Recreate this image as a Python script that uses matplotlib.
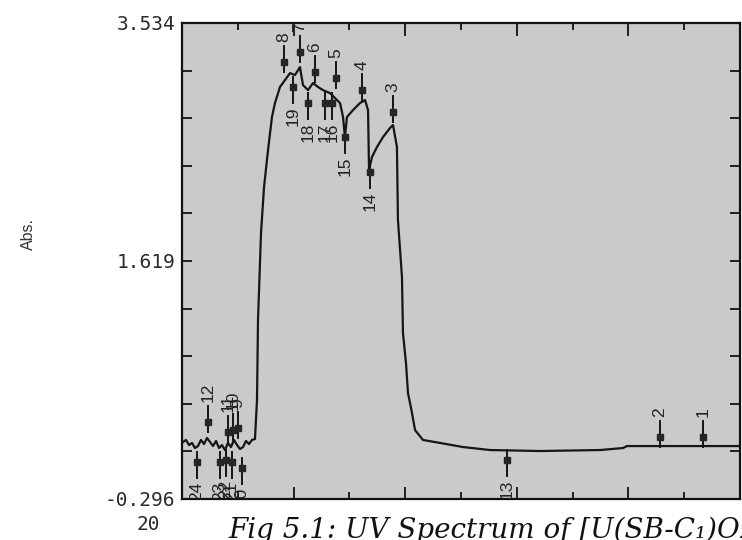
import matplotlib
matplotlib.use("Agg")
import matplotlib.pyplot as plt
import numpy as np

# spectrum trace (wavelength nm, absorbance)
wavelength = [201.0, 203.6, 206.3, 209.0, 211.6, 214.3, 217.0, 219.7, 222.4, 225.1,
              227.8, 230.5, 233.2, 235.8, 238.5, 241.2, 243.9, 246.6, 249.3, 252.0,
              254.7, 257.3, 260.0, 262.7, 265.4, 267.2, 268.1, 270.8, 273.5, 277.1,
              280.6, 283.3, 287.8, 292.3, 296.8, 301.2, 305.7, 308.4, 312.9, 317.4,
              321.9, 326.3, 332.6, 338.9, 341.6, 344.3, 346.0, 347.8, 353.2, 359.5,
              364.0, 366.7, 367.6, 370.2, 374.7, 380.1, 386.4, 389.1, 392.6, 393.5,
              397.1, 398.0, 400.7, 402.5, 406.1, 408.8, 415.9, 431.2, 451.8, 476.0,
              520.8, 574.5, 595.1, 598.7, 646.2, 700.0]
absorbance = [0.163, 0.179, 0.138, 0.155, 0.114, 0.130, 0.179, 0.146, 0.195, 0.163,
              0.130, 0.171, 0.114, 0.138, 0.098, 0.155, 0.122, 0.179, 0.138, 0.106,
              0.122, 0.171, 0.146, 0.179, 0.187, 0.500, 1.144, 1.844, 2.214, 2.512,
              2.777, 2.890, 3.019, 3.075, 3.131, 3.115, 3.179, 3.035, 2.994, 3.051,
              3.019, 2.994, 2.970, 2.914, 2.890, 2.777, 2.616, 2.777, 2.833, 2.890,
              2.914, 2.833, 2.351, 2.455, 2.536, 2.616, 2.689, 2.713, 2.536, 1.949,
              1.490, 1.039, 0.798, 0.557, 0.396, 0.259, 0.179, 0.155, 0.122, 0.098,
              0.090, 0.098, 0.114, 0.130, 0.130, 0.130]

# picked peaks (pointing up) and valleys (pointing down)
peak_labels = ["1", "2", "3", "4", "5", "6", "7", "8", "9", "10", "11", "12"]
peak_wl = [666.8, 628.3, 389.1, 361.3, 338.0, 319.2, 305.7, 291.4, 250.2, 245.7, 241.2, 223.3]
peak_abs = [0.203, 0.203, 2.817, 2.994, 3.091, 3.139, 3.300, 3.220, 0.275, 0.259, 0.243, 0.323]

valley_labels = ["13", "14", "15", "16", "17", "18", "19", "20", "21", "22", "23", "24"]
valley_wl = [491.2, 368.4, 346.0, 334.4, 328.1, 312.9, 299.5, 253.8, 244.8, 239.4, 234.0, 213.4]
valley_abs = [0.018, 2.335, 2.616, 2.890, 2.890, 2.890, 3.019, -0.047, 0.002, 0.018, 0.002, 0.002]

y_ticks = [-0.296 + i * 0.383 for i in range(11)]
y_ticklabels = ["-0.296", "", "", "", "", "1.619", "", "", "", "", "3.534"]

fig = plt.figure(figsize=(7.42, 5.40), dpi=100)
ax = fig.add_axes([182 / 742, 41 / 540, 558 / 742, 476 / 540])
ax.set_facecolor("#cacaca")

ax.plot(wavelength, absorbance, color="#151515", lw=1.6)

stem_up, stem_dn = 0.13, 0.08
lab_font = dict(fontsize=12.5, family="Liberation Sans", color="#222222")
for lab, x, y in zip(peak_labels, peak_wl, peak_abs):
    ax.plot([x, x], [y - stem_dn, y + stem_up], color="#151515", lw=1.4)
    ax.text(x, y + stem_up + 0.03, lab, rotation=90, ha="center", va="bottom",
            clip_on=True, **lab_font)
ax.plot(peak_wl, peak_abs, "s", color="#252525", ms=4.5)

for lab, x, y in zip(valley_labels, valley_wl, valley_abs):
    ax.plot([x, x], [y + stem_dn, y - stem_up], color="#151515", lw=1.4)
    ax.text(x, y - stem_up - 0.03, lab, rotation=90, ha="center", va="top",
            clip_on=True, **lab_font)
ax.plot(valley_wl, valley_abs, "s", color="#252525", ms=4.5)

ax.set_xlim(200, 700)
ax.set_ylim(-0.296, 3.534)
ax.set_xticks(np.arange(200, 701, 100))
ax.set_xticks(np.arange(250, 700, 100), minor=True)
ax.set_xticklabels([])
ax.set_yticks(y_ticks)
ax.set_yticklabels(y_ticklabels, family="DejaVu Sans Mono", fontsize=14, color="#2a2a2a")
ax.tick_params(axis="both", which="both", direction="in", top=True, right=True, color="#111111")
ax.tick_params(axis="x", which="major", length=9, width=1.3)
ax.tick_params(axis="x", which="minor", length=5, width=1.3)
ax.tick_params(axis="y", length=7, width=1.3, pad=5)
for s in ax.spines.values():
    s.set_linewidth(1.6)
    s.set_color("#111111")

fig.text(28 / 742, 1 - 234 / 540, "Abs.", rotation=90, ha="center", va="center",
         fontsize=11.5, family="Liberation Sans", color="#333333")
fig.text(148 / 742, 1 - 525 / 540, "20", ha="center", va="center",
         fontsize=14, family="DejaVu Sans Mono", color="#2a2a2a")
# caption runs off the right edge, as in the scanned figure
fig.text(228 / 742, 0.004, "Fig 5.1: UV Spectrum of [U(SB-C\u2081)O\u2082]", ha="left", va="baseline",
         fontsize=20, style="italic", family=["DejaVu Serif"], color="#111111")

fig.savefig("out.png", dpi=100)
